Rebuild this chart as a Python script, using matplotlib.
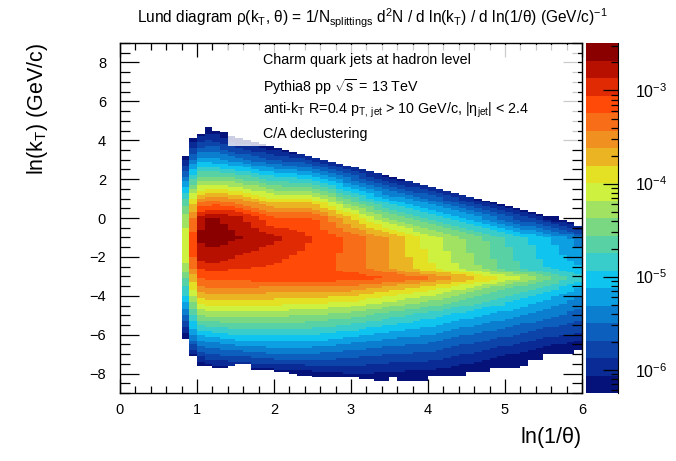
import numpy as np
import matplotlib
matplotlib.use("Agg")
import matplotlib.pyplot as plt
from matplotlib.colors import ListedColormap, BoundaryNorm
from matplotlib.patches import Rectangle
from matplotlib.ticker import LogLocator, LogFormatterMathtext, MultipleLocator, NullFormatter

plt.rcParams["font.family"] = ["Liberation Sans", "DejaVu Sans"]
plt.rcParams["mathtext.fontset"] = "custom"
plt.rcParams["mathtext.rm"] = "Liberation Sans"
plt.rcParams["mathtext.it"] = "Liberation Sans:italic"
plt.rcParams["mathtext.default"] = "regular"

# ──────────────────────────────────────────────────────────────
# Colour scale: 20 log-spaced contour bands (ROOT COLZ look)
# ──────────────────────────────────────────────────────────────
LOG_Z_MIN, LOG_Z_MAX = -6.25, -2.49
band_colors = [
    "#05127a", "#0a2a96", "#0c44aa", "#0d5fbe", "#0c7ed0",
    "#0ca0e2", "#10c4f0", "#38ccca", "#58d2a4", "#7ad882",
    "#a2e262", "#cef03e", "#e4e024", "#eab422", "#f09020",
    "#f86e18", "#ff4a08", "#e02a04", "#b81000", "#8a0000",
]

# ──────────────────────────────────────────────────────────────
# Histogram data
# ──────────────────────────────────────────────────────────────
# one column per 0.1 in ln(1/theta), from 0.8 to 6.0
col_x0 = 0.8
col_width = 0.1
row_width = 0.1

# upper / lower ln(kT) limit of filled bins in each column
col_top = [
    3.2, 4.1, 4.35, 4.7, 4.55, 4.4, 4.25, 4.15, 4.05, 3.95,
    3.85, 3.75, 3.65, 3.55, 3.45, 3.35, 3.25, 3.15, 3.05, 2.95,
    2.85, 2.75, 2.65, 2.55, 2.45, 2.35, 2.25, 2.15, 2.05, 1.95,
    1.85, 1.75, 1.65, 1.55, 1.45, 1.35, 1.25, 1.15, 1.05, 0.95,
    0.85, 0.75, 0.65, 0.55, 0.45, 0.35, 0.25, 0.15, 0.05, -0.05,
    -0.15, -0.35,
]
col_bottom = [
    -6.2, -7.1, -7.6, -7.65, -7.7, -7.7, -7.65, -7.5, -7.5, -7.8,
    -7.85, -7.85, -7.9, -7.95, -8.05, -8.1, -8.1, -8.15, -8.15, -8.15,
    -8.2, -8.2, -8.2, -8.3, -8.35, -8.4, -8.4, -8.2, -8.4, -8.4,
    -8.4, -8.4, -8.1, -8.1, -8.1, -8.1, -8.1, -7.9, -7.9, -7.9,
    -7.7, -7.7, -7.7, -7.7, -7.6, -7.3, -7.3, -7.0, -7.0, -7.0,
    -7.0, -6.85,
]

# density in colour-band units (0 = lowest band, 20 = top of scale)
node_x = [0.85, 0.95, 1.05, 1.2, 1.5, 2.0, 2.5, 3.0, 3.5, 4.0, 4.5, 5.0, 5.5, 5.95]
node_y = [-9, -8, -7, -6, -5, -4, -3.5, -3.1, -2.6, -2, -1, 0, 1, 2, 3, 4, 5]
band_level = [
    [-2, -1, -1, 0.5, 4, 7, 8, 9, 10.5, 11.5, 11.5, 10.5, 8, 4.5, 1, -2, -3],
    [-2, -1, 1, 5, 8, 11, 12.5, 13.5, 15, 16, 16.5, 15, 12, 8, 4, 0.5, -3],
    [-2, -1, 2.5, 6, 10, 13.5, 15, 16, 17, 18.4, 19.3, 18.6, 14, 9.5, 5.5, 1.5, -1],
    [-2, -0.5, 3.1, 6.4, 10.3, 13.5, 15.3, 16.2, 17.4, 18.6, 19.6, 19.2, 14.5, 9.5, 5.5, 2, -1],
    [-2, 0, 3.3, 7, 10.5, 13.8, 15.3, 16.3, 17, 18.0, 19.2, 18.5, 14, 9.3, 4.5, 0.5, -1.5],
    [-2, 0, 4, 7, 10.3, 13.5, 15, 16.8, 16.8, 17.3, 18.3, 16, 12, 7.5, 3, -1, -3],
    [-2, 0.5, 4, 7, 10, 13.3, 15, 16.8, 16.3, 16.6, 17, 16.2, 12, 7, 2, -3, -5],
    [-1, 1, 3.5, 6.3, 9.5, 13, 15, 16.5, 15.7, 15.7, 15.7, 13, 8.5, 4, -0.5, -4, -5],
    [-1, 0.8, 3, 5.5, 8.5, 12, 14, 16.1, 14.2, 14, 14, 9.8, 5.8, 1.3, -3, -5, -5],
    [-1, 0.5, 2.8, 5, 7.5, 11, 13, 15.3, 12.3, 12, 11.5, 8, 4, -0.5, -5, -5, -5],
    [-1, 0, 2, 4, 6.5, 9.5, 11.5, 13.8, 10.8, 10.3, 9.8, 6, 1.5, -3, -5, -5, -5],
    [-2, -1, 1.2, 3.2, 5.5, 8, 9.5, 12, 8.8, 8.3, 8, 3.5, -1, -5, -5, -5, -5],
    [-2, -2, 0.3, 2.3, 4.5, 6.5, 8, 9.8, 7.2, 6.8, 6.3, 1, -3, -5, -5, -5, -5],
    [-2, -2, -0.5, 1.8, 3.5, 5, 6.3, 7.5, 6.2, 5.5, 4.5, -1.5, -5, -5, -5, -5, -5],
]

# ──────────────────────────────────────────────────────────────
# Build the binned histogram
# ──────────────────────────────────────────────────────────────
n_cols = len(col_top)
x_edges = col_x0 + col_width * np.arange(n_cols + 1)
y_edges = -9 + row_width * np.arange(181)
xc = 0.5 * (x_edges[:-1] + x_edges[1:])
yc = 0.5 * (y_edges[:-1] + y_edges[1:])

lev_nodes = np.array(band_level, dtype=float)
along_y = np.array([np.interp(yc, node_y, row) for row in lev_nodes])
levels = np.array([np.interp(xc, node_x, along_y[:, j]) for j in range(len(yc))])
levels = np.clip(levels, 0.05, 19.95)

n_bands = len(band_colors)
step = (LOG_Z_MAX - LOG_Z_MIN) / n_bands
density = 10.0 ** (LOG_Z_MIN + step * levels)

inside = (yc[:, None] > np.array(col_bottom)[None, :]) & (yc[:, None] < np.array(col_top)[None, :])
density = np.ma.masked_where(~inside, density)

bounds = 10.0 ** (LOG_Z_MIN + step * np.arange(n_bands + 1))
cmap = ListedColormap(band_colors)
norm = BoundaryNorm(bounds, n_bands)

# ──────────────────────────────────────────────────────────────
# Figure
# ──────────────────────────────────────────────────────────────
fig = plt.figure(figsize=(6.76, 4.61), dpi=100, facecolor="white")
ax = fig.add_axes([0.1775, 0.1475, 0.6834, 0.7592])
cax = fig.add_axes([0.8669, 0.1475, 0.0473, 0.7592])

ax.pcolormesh(x_edges, y_edges, density, cmap=cmap, norm=norm,
              shading="flat", edgecolors="none", antialiased=False, zorder=1)

ax.set_xlim(0, 6)
ax.set_ylim(-9, 9)
ax.xaxis.set_major_locator(MultipleLocator(1))
ax.xaxis.set_minor_locator(MultipleLocator(0.2))
ax.yaxis.set_major_locator(MultipleLocator(2))
ax.yaxis.set_minor_locator(MultipleLocator(0.5))
ax.tick_params(which="both", direction="in", top=True, right=True, width=0.9, labelsize=10.5)
ax.tick_params(axis="x", which="major", length=10, pad=7)
ax.tick_params(axis="x", which="minor", length=5)
ax.tick_params(axis="y", which="major", length=14, pad=10)
ax.tick_params(axis="y", which="minor", length=7)
ax.yaxis.set_major_formatter(plt.FuncFormatter(lambda v, p: f"{v:.0f}".replace("-", "\u2212")))
for s in ax.spines.values():
    s.set_linewidth(1.0)

ax.set_xlabel(r"ln(1/$\theta$)", fontsize=15.5, loc="right")
ax.xaxis.set_label_coords(1.0, -0.09)
ax.set_ylabel(r"ln(k$_{T}$) (GeV/c)", fontsize=15.5, loc="top")
ax.yaxis.set_label_coords(-0.152, 1.0)

# semi-transparent legend box over the top of the histogram
ax.add_patch(Rectangle((1.4, 3.72), 4.55, 5.2, facecolor="white", edgecolor="none",
                       alpha=0.8, zorder=2))
lines = [
    "Charm quark jets at hadron level",
    r"Pythia8 pp $\sqrt{s}$ = 13 TeV",
    r"anti-k$_{T}$ R=0.4 p$_{T,\,jet}$ > 10 GeV/c, |$\eta_{jet}$| < 2.4",
    "C/A declustering",
]
for yy, txt in zip([0.951, 0.874, 0.808, 0.741], lines):
    ax.text(0.3095, yy, txt, transform=ax.transAxes, fontsize=10.3,
            ha="left", va="center", zorder=3)

# colour bar
cax.set_yscale("log")
cax.pcolormesh([0, 1], bounds, np.sqrt(bounds[:-1] * bounds[1:])[:, None],
               cmap=cmap, norm=norm, shading="flat")
cax.set_ylim(bounds[0], bounds[-1])
cax.set_xlim(0, 1)
cax.set_xticks([])
cax.yaxis.tick_right()
cax.yaxis.set_major_locator(LogLocator(base=10))
cax.yaxis.set_minor_locator(LogLocator(base=10, subs=np.arange(2, 10)))
cax.yaxis.set_major_formatter(LogFormatterMathtext())
cax.yaxis.set_minor_formatter(NullFormatter())
cax.tick_params(which="both", direction="in", labelsize=11.5, pad=12, width=0.9)
cax.tick_params(which="major", length=11)
cax.tick_params(which="minor", length=5)
for side in ["left", "top", "bottom"]:
    cax.spines[side].set_visible(False)

fig.text(0.55, 0.961,
         r"Lund diagram $\rho$(k$_{T}$, $\theta$) = 1/N$_{splittings}$ d$^{2}$N / d ln(k$_{T}$)"
         r" / d ln(1/$\theta$) (GeV/c)$^{-1}$",
         ha="center", va="center", fontsize=11.2)

fig.savefig("out.png", dpi=100, facecolor="white")
